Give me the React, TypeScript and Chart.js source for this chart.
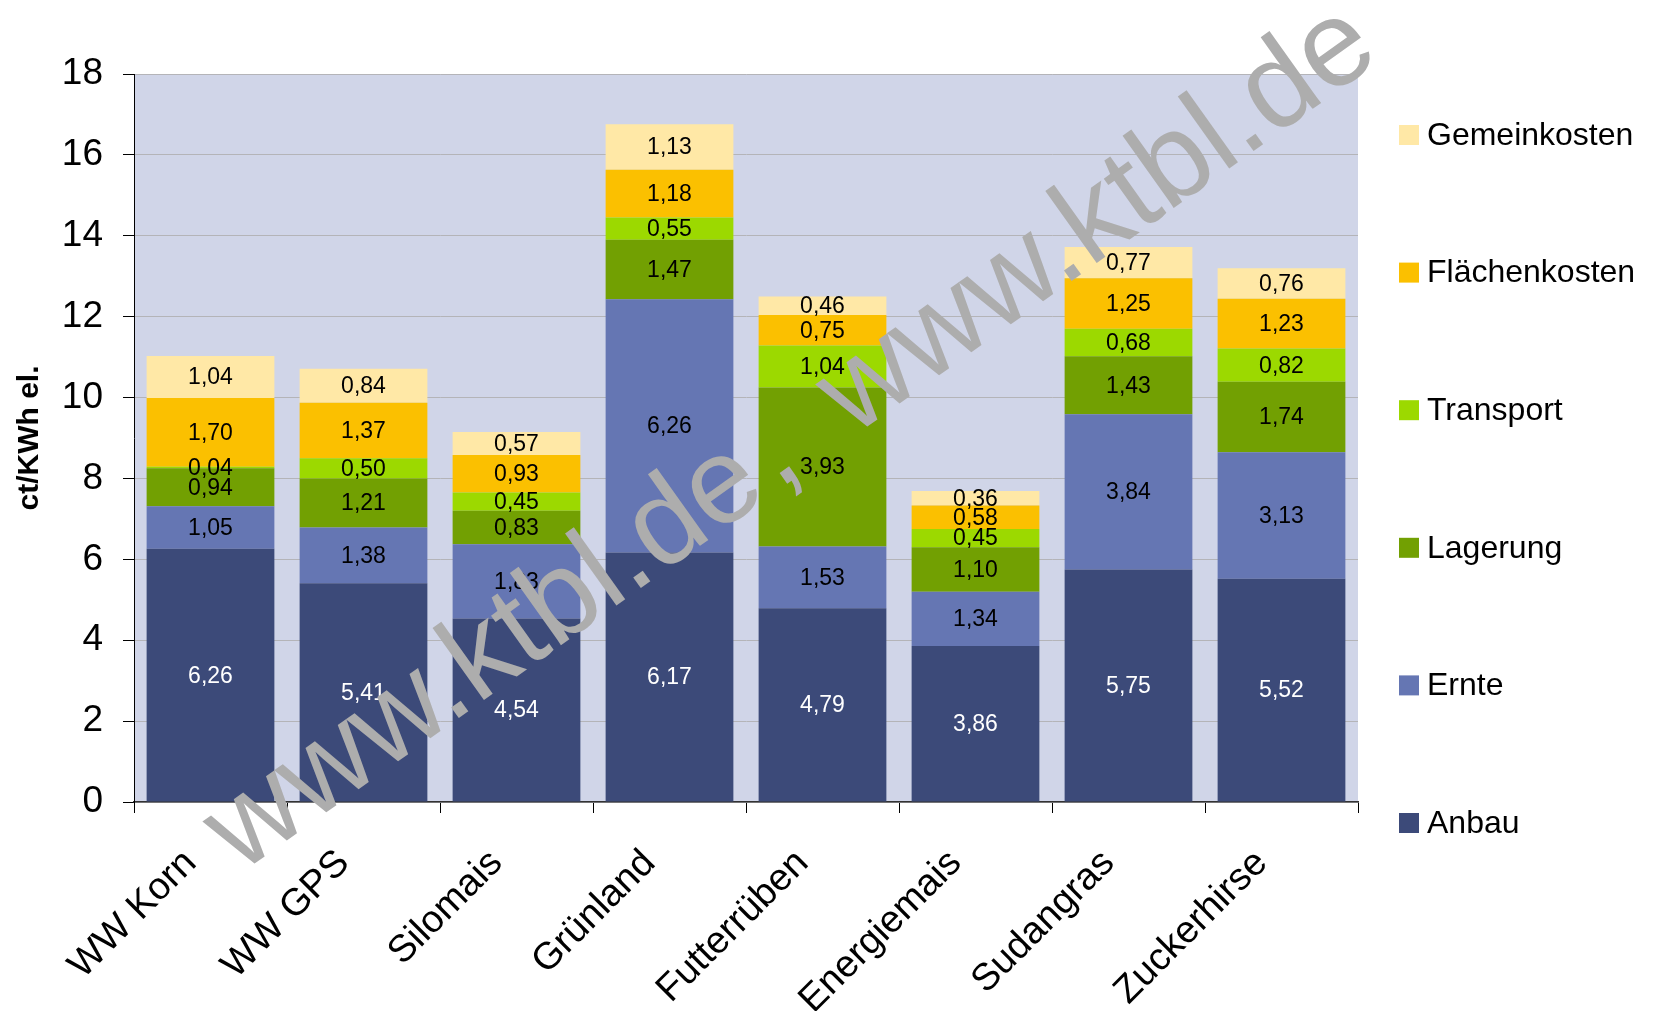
import React, { useEffect, useRef } from 'react';
import { Chart, registerables } from 'chart.js';

Chart.register(...registerables);

const categories = ['WW Korn', 'WW GPS', 'Silomais', 'Grünland', 'Futterrüben', 'Energiemais', 'Sudangras', 'Zuckerhirse'];

const anbau = [6.26, 5.41, 4.54, 6.17, 4.79, 3.86, 5.75, 5.52];
const ernte = [1.05, 1.38, 1.83, 6.26, 1.53, 1.34, 3.84, 3.13];
const lagerung = [0.94, 1.21, 0.83, 1.47, 3.93, 1.10, 1.43, 1.74];
const transport = [0.04, 0.50, 0.45, 0.55, 1.04, 0.45, 0.68, 0.82];
const flaechenkosten = [1.70, 1.37, 0.93, 1.18, 0.75, 0.58, 1.25, 1.23];
const gemeinkosten = [1.04, 0.84, 0.57, 1.13, 0.46, 0.36, 0.77, 0.76];

const seriesNames = ['Anbau', 'Ernte', 'Lagerung', 'Transport', 'Flächenkosten', 'Gemeinkosten'];
const seriesColors = ['#3C4A79', '#6576B3', '#72A002', '#9CD900', '#FBC000', '#FFE8A6'];
const labelColors = ['#FFFFFF', '#000000', '#000000', '#000000', '#000000', '#000000'];

const yMin = 0;
const yMax = 18;
const yStep = 2;
const yTitle = 'ct/KWh el.';
const watermarkParts = ['www.ktbl.de', ',', 'www.ktbl.de'];

const FONT = "'Liberation Sans', Arial, Helvetica, sans-serif";

const bgPlugin = {
  id: 'plotBg',
  beforeDraw(chart: any) {
    const { ctx, chartArea } = chart;
    ctx.save();
    ctx.fillStyle = '#D0D5E8';
    ctx.fillRect(chartArea.left, chartArea.top, chartArea.right - chartArea.left, chartArea.bottom - chartArea.top);
    ctx.restore();
  },
};

const valueLabelPlugin = {
  id: 'valueLabels',
  afterDatasetsDraw(chart: any) {
    const { ctx } = chart;
    ctx.save();
    ctx.font = `23px ${FONT}`;
    ctx.textAlign = 'center';
    ctx.textBaseline = 'middle';
    chart.data.datasets.forEach((ds: any, i: number) => {
      const meta = chart.getDatasetMeta(i);
      meta.data.forEach((bar: any, j: number) => {
        const { x, y, base } = bar.getProps(['x', 'y', 'base'], true);
        const v = ds.data[j];
        ctx.fillStyle = labelColors[i];
        ctx.fillText(v.toFixed(2).replace('.', ','), x, (y + base) / 2 + 1);
      });
    });
    ctx.restore();
  },
};

const legendPlugin = {
  id: 'sideLegend',
  afterDraw(chart: any) {
    const { ctx } = chart;
    const n = chart.data.datasets.length;
    const boxX = 1399;
    const box = 20;
    const textX = 1427;
    const firstY = 135;
    const step = 137.6;
    ctx.save();
    ctx.font = `32px ${FONT}`;
    ctx.textAlign = 'left';
    ctx.textBaseline = 'middle';
    for (let k = 0; k < n; k++) {
      const ds = chart.data.datasets[n - 1 - k];
      const cy = firstY + k * step;
      ctx.fillStyle = ds.backgroundColor;
      ctx.fillRect(boxX, cy - box / 2, box, box);
      ctx.fillStyle = '#000';
      ctx.fillText(ds.label, textX, cy + 1);
    }
    ctx.restore();
  },
};

const watermarkPlugin = {
  id: 'watermark',
  afterDraw(chart: any) {
    const { ctx } = chart;
    ctx.save();
    ctx.translate(240, 874);
    ctx.rotate((-35.5 * Math.PI) / 180);
    ctx.font = `122px ${FONT}`;
    ctx.fillStyle = '#ADADAD';
    ctx.textAlign = 'left';
    ctx.textBaseline = 'alphabetic';
    const w1 = ctx.measureText(watermarkParts[0]).width;
    const sp = ctx.measureText(' ').width;
    const wc = ctx.measureText(watermarkParts[1]).width;
    ctx.fillText(watermarkParts[0], 0, 0);
    ctx.fillText(watermarkParts[1], w1 + 10, 0);
    ctx.fillText(watermarkParts[2], w1 + 2 * sp + wc, 0);
    ctx.restore();
  },
};

export default function App() {
  const ref = useRef<HTMLCanvasElement>(null);

  useEffect(() => {
    if (!ref.current) return;
    const values = [anbau, ernte, lagerung, transport, flaechenkosten, gemeinkosten];
    const chart = new Chart(ref.current, {
      type: 'bar',
      data: {
        labels: categories,
        datasets: values.map((d, i) => ({
          label: seriesNames[i],
          data: d,
          backgroundColor: seriesColors[i],
          borderWidth: 0,
          barPercentage: 0.835,
          categoryPercentage: 1,
        })),
      },
      options: {
        responsive: false,
        animation: false,
        layout: { padding: { left: 0, top: 74, right: 297, bottom: 0 } },
        plugins: {
          legend: { display: false },
          tooltip: { enabled: false },
        },
        scales: {
          x: {
            stacked: true,
            offset: true,
            grid: {
              display: true,
              drawOnChartArea: false,
              drawTicks: true,
              tickLength: 11,
              tickColor: '#000',
              offset: true,
            },
            border: { display: true, color: '#333', width: 1.5 },
            ticks: {
              color: '#000',
              font: { family: FONT, size: 38 },
              minRotation: 45,
              maxRotation: 45,
              autoSkip: false,
              padding: 28,
              labelOffset: -20,
            },
            afterFit: (s: any) => {
              s.height = 1011 - 802;
            },
          },
          y: {
            stacked: true,
            min: yMin,
            max: yMax,
            ticks: {
              stepSize: yStep,
              color: '#000',
              font: { family: FONT, size: 37 },
              padding: 20,
            },
            grid: {
              color: '#B4B4B8',
              tickColor: '#000',
              tickLength: 11,
              lineWidth: 1,
            },
            border: { display: true, color: '#000', width: 1 },
            title: {
              display: true,
              text: yTitle,
              color: '#000',
              font: { family: FONT, size: 30, weight: 'bold' },
              padding: { top: 12, bottom: 0 },
            },
            afterFit: (s: any) => {
              s.width = 134;
            },
          },
        },
      },
      plugins: [bgPlugin, valueLabelPlugin, legendPlugin, watermarkPlugin],
    });
    return () => chart.destroy();
  }, []);

  return (
    <div style={{ position: 'absolute', left: 0, top: 0, width: 1655, height: 1011, background: '#fff' }}>
      <canvas ref={ref} width={1655} height={1011} style={{ display: 'block' }} />
    </div>
  );
}
